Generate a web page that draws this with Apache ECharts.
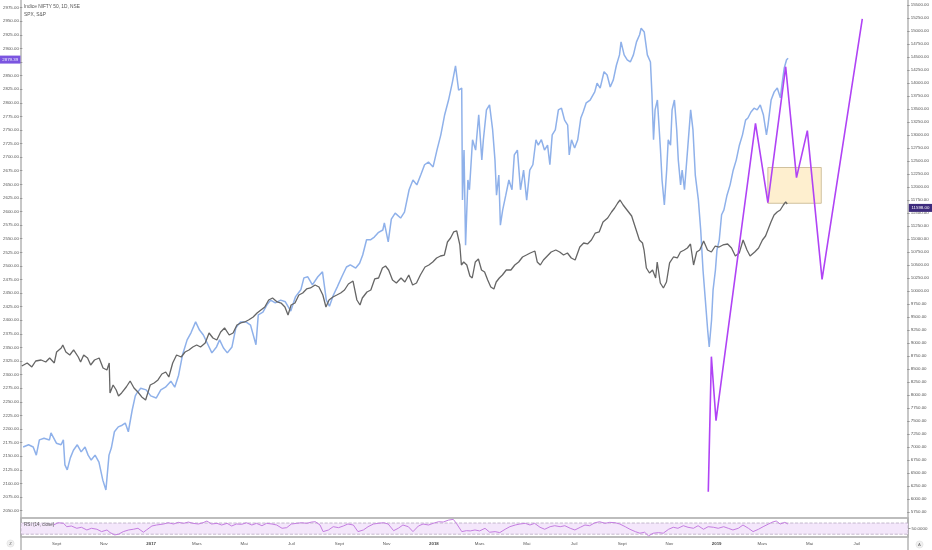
<!DOCTYPE html>
<html>
<head>
<meta charset="utf-8">
<style>
  html, body { margin: 0; padding: 0; background: #fff; }
  #chart { width: 932px; height: 550px; }
</style>
<script src="https://cdn.jsdelivr.net/npm/echarts@6/dist/echarts.min.js"></script>
</head>
<body>
<div id="chart"></div>
<script>
// S&P 500 (comparison, left scale)
const spx = [
  ['2016-07-18',2167],['2016-07-25',2171],['2016-07-31',2167],['2016-08-04',2152],['2016-08-08',2180],['2016-08-14',2183],
  ['2016-08-21',2180],['2016-08-23',2193],['2016-08-30',2174],['2016-09-05',2171],['2016-09-08',2180],['2016-09-10',2134],
  ['2016-09-13',2125],['2016-09-17',2147],['2016-09-21',2161],['2016-09-26',2171],['2016-10-01',2158],['2016-10-06',2167],
  ['2016-10-10',2152],['2016-10-14',2143],['2016-10-19',2152],['2016-10-24',2139],['2016-10-29',2106],['2016-11-02',2088],
  ['2016-11-06',2152],['2016-11-09',2165],['2016-11-13',2195],['2016-11-18',2204],['2016-11-23',2207],['2016-11-27',2211],
  ['2016-12-01',2195],['2016-12-06',2235],['2016-12-10',2261],['2016-12-12',2266],['2016-12-17',2275],['2016-12-24',2272],
  ['2016-12-30',2261],['2017-01-06',2257],['2017-01-12',2272],['2017-01-18',2277],['2017-01-25',2288],['2017-01-30',2277],
  ['2017-02-04',2299],['2017-02-09',2336],['2017-02-15',2364],['2017-02-20',2377],['2017-02-26',2397],['2017-03-03',2382],
  ['2017-03-08',2373],['2017-03-14',2355],['2017-03-19',2340],['2017-03-25',2351],['2017-03-29',2364],['2017-04-03',2349],
  ['2017-04-08',2340],['2017-04-14',2351],['2017-04-19',2386],['2017-04-25',2397],['2017-05-02',2397],['2017-05-08',2391],
  ['2017-05-15',2355],['2017-05-18',2410],['2017-05-24',2415],['2017-05-29',2428],['2017-06-03',2437],['2017-06-09',2432],
  ['2017-06-16',2437],['2017-06-22',2434],['2017-06-29',2417],['2017-07-05',2443],['2017-07-12',2456],['2017-07-16',2478],
  ['2017-07-21',2480],['2017-07-27',2465],['2017-08-03',2480],['2017-08-09',2489],['2017-08-14',2437],['2017-08-18',2426],
  ['2017-08-23',2446],['2017-08-28',2461],['2017-09-03',2480],['2017-09-09',2498],['2017-09-14',2502],['2017-09-21',2496],
  ['2017-09-26',2505],['2017-09-30',2520],['2017-10-05',2548],['2017-10-10',2548],['2017-10-15',2553],['2017-10-20',2561],
  ['2017-10-26',2566],['2017-10-28',2579],['2017-11-02',2544],['2017-11-06',2586],['2017-11-11',2597],['2017-11-18',2588],
  ['2017-11-23',2599],['2017-11-29',2640],['2017-12-04',2658],['2017-12-09',2649],['2017-12-14',2667],['2017-12-19',2686],
  ['2017-12-24',2691],['2017-12-30',2682],['2018-01-04',2713],['2018-01-09',2741],['2018-01-14',2778],['2018-01-19',2805],
  ['2018-01-24',2838],['2018-01-28',2868],['2018-02-01',2823],['2018-02-05',2827],['2018-02-06',2621],['2018-02-08',2713],
  ['2018-02-10',2538],['2018-02-13',2658],['2018-02-15',2640],['2018-02-19',2732],['2018-02-23',2713],['2018-02-27',2778],
  ['2018-03-03',2695],['2018-03-05',2732],['2018-03-09',2787],['2018-03-13',2796],['2018-03-17',2750],['2018-03-20',2695],
  ['2018-03-22',2630],['2018-03-25',2667],['2018-03-27',2575],['2018-03-30',2603],['2018-04-03',2630],['2018-04-07',2658],
  ['2018-04-11',2640],['2018-04-14',2704],['2018-04-18',2713],['2018-04-22',2640],['2018-04-26',2676],['2018-04-30',2621],
  ['2018-05-04',2676],['2018-05-08',2686],['2018-05-12',2732],['2018-05-15',2722],['2018-05-19',2732],['2018-05-23',2713],
  ['2018-05-27',2722],['2018-05-30',2686],['2018-06-02',2741],['2018-06-06',2750],['2018-06-10',2787],['2018-06-14',2790],
  ['2018-06-18',2768],['2018-06-22',2759],['2018-06-24',2704],['2018-06-27',2732],['2018-07-01',2717],['2018-07-05',2732],
  ['2018-07-09',2772],['2018-07-12',2783],['2018-07-16',2800],['2018-07-21',2805],['2018-07-27',2820],['2018-07-30',2836],
  ['2018-08-03',2827],['2018-08-08',2857],['2018-08-12',2851],['2018-08-16',2829],['2018-08-20',2842],['2018-08-24',2869],
  ['2018-08-28',2888],['2018-08-30',2912],['2018-09-03',2888],['2018-09-07',2879],['2018-09-11',2875],['2018-09-15',2888],
  ['2018-09-19',2912],['2018-09-23',2925],['2018-09-25',2937],['2018-09-29',2930],['2018-10-03',2888],['2018-10-07',2875],
  ['2018-10-09',2814],['2018-10-11',2732],['2018-10-13',2787],['2018-10-16',2805],['2018-10-20',2713],['2018-10-22',2658],
  ['2018-10-25',2612],['2018-10-28',2676],['2018-10-30',2732],['2018-11-02',2722],['2018-11-04',2787],['2018-11-07',2805],
  ['2018-11-10',2750],['2018-11-12',2695],['2018-11-15',2649],['2018-11-17',2676],['2018-11-20',2640],['2018-11-24',2713],
  ['2018-11-28',2787],['2018-12-01',2750],['2018-12-04',2667],['2018-12-08',2621],['2018-12-11',2566],['2018-12-14',2492],
  ['2018-12-17',2437],['2018-12-20',2382],['2018-12-22',2351],['2018-12-25',2400],['2018-12-27',2456],['2018-12-30',2492],
  ['2019-01-01',2529],['2019-01-04',2548],['2019-01-07',2594],['2019-01-10',2603],['2019-01-14',2630],['2019-01-18',2649],
  ['2019-01-22',2676],['2019-01-26',2695],['2019-01-30',2722],['2019-02-03',2741],['2019-02-07',2768],['2019-02-10',2772],
  ['2019-02-14',2783],['2019-02-18',2790],['2019-02-22',2787],['2019-02-26',2796],['2019-03-02',2778],['2019-03-06',2741],
  ['2019-03-08',2759],['2019-03-12',2805],['2019-03-16',2820],['2019-03-20',2827],['2019-03-24',2809],['2019-03-26',2833],
  ['2019-03-29',2864],['2019-04-01',2879],['2019-04-03',2882]
];

// Indice NIFTY 50 (main symbol, right scale)
const nifty = [
  ['2016-07-18',8558],['2016-07-25',8616],['2016-07-31',8539],['2016-08-05',8654],['2016-08-12',8673],['2016-08-18',8635],
  ['2016-08-23',8712],['2016-08-29',8616],['2016-09-01',8827],['2016-09-07',8904],['2016-09-09',8962],['2016-09-13',8827],
  ['2016-09-18',8769],['2016-09-23',8866],['2016-09-29',8731],['2016-10-02',8635],['2016-10-06',8769],['2016-10-11',8712],
  ['2016-10-15',8577],['2016-10-20',8673],['2016-10-26',8712],['2016-10-31',8519],['2016-11-05',8481],['2016-11-08',8616],
  ['2016-11-09',8039],['2016-11-13',8192],['2016-11-17',8096],['2016-11-20',7981],['2016-11-24',8039],['2016-11-30',8154],
  ['2016-12-05',8269],['2016-12-10',8135],['2016-12-15',8058],['2016-12-20',7962],['2016-12-25',7904],['2016-12-31',8192],
  ['2017-01-05',8231],['2017-01-10',8289],['2017-01-15',8404],['2017-01-20',8442],['2017-01-24',8346],['2017-01-29',8616],
  ['2017-02-03',8769],['2017-02-09',8731],['2017-02-14',8827],['2017-02-19',8866],['2017-02-24',8923],['2017-03-01',8962],
  ['2017-03-06',8923],['2017-03-12',9000],['2017-03-17',9192],['2017-03-22',9096],['2017-03-27',9058],['2017-04-01',9212],
  ['2017-04-06',9289],['2017-04-12',9154],['2017-04-17',9192],['2017-04-22',9346],['2017-04-27',9385],['2017-05-02',9404],
  ['2017-05-07',9442],['2017-05-13',9500],['2017-05-18',9577],['2017-05-23',9635],['2017-05-28',9692],['2017-06-02',9827],
  ['2017-06-07',9865],['2017-06-13',9789],['2017-06-18',9769],['2017-06-23',9692],['2017-06-27',9539],['2017-07-01',9731],
  ['2017-07-06',9769],['2017-07-11',9923],['2017-07-16',9962],['2017-07-21',10039],['2017-07-26',10058],['2017-08-01',10115],
  ['2017-08-06',10077],['2017-08-11',9923],['2017-08-15',9692],['2017-08-19',9827],['2017-08-24',9885],['2017-08-29',9923],
  ['2017-09-03',9962],['2017-09-08',10019],['2017-09-13',10135],['2017-09-19',10192],['2017-09-24',9827],['2017-09-28',9731],
  ['2017-10-01',9865],['2017-10-07',9981],['2017-10-12',10019],['2017-10-17',10231],['2017-10-22',10250],['2017-10-27',10442],
  ['2017-10-31',10481],['2017-11-04',10404],['2017-11-09',10212],['2017-11-14',10154],['2017-11-20',10250],['2017-11-25',10173],
  ['2017-11-30',10308],['2017-12-05',10115],['2017-12-10',10154],['2017-12-15',10308],['2017-12-21',10462],['2017-12-26',10500],
  ['2017-12-31',10558],['2018-01-05',10635],['2018-01-10',10673],['2018-01-15',10692],['2018-01-19',10942],['2018-01-23',11019],
  ['2018-01-27',11135],['2018-01-31',11154],['2018-02-04',10885],['2018-02-06',10500],['2018-02-09',10558],['2018-02-13',10500],
  ['2018-02-17',10289],['2018-02-20',10250],['2018-02-24',10558],['2018-02-28',10615],['2018-03-04',10404],['2018-03-08',10365],
  ['2018-03-12',10212],['2018-03-16',10077],['2018-03-20',10039],['2018-03-23',10173],['2018-03-27',10250],['2018-03-31',10308],
  ['2018-04-05',10404],['2018-04-11',10404],['2018-04-16',10500],['2018-04-21',10558],['2018-04-26',10654],['2018-05-01',10692],
  ['2018-05-06',10731],['2018-05-12',10769],['2018-05-15',10558],['2018-05-19',10500],['2018-05-23',10596],['2018-05-28',10673],
  ['2018-06-02',10750],['2018-06-08',10788],['2018-06-13',10750],['2018-06-18',10692],['2018-06-23',10731],['2018-06-28',10635],
  ['2018-07-03',10596],['2018-07-09',10846],['2018-07-14',10923],['2018-07-19',10904],['2018-07-24',10981],['2018-07-29',11115],
  ['2018-08-03',11135],['2018-08-08',11327],['2018-08-14',11404],['2018-08-19',11519],['2018-08-23',11596],['2018-08-27',11692],
  ['2018-08-30',11750],['2018-09-03',11654],['2018-09-08',11558],['2018-09-14',11442],['2018-09-19',11212],['2018-09-24',10981],
  ['2018-09-28',10923],['2018-09-30',10788],['2018-10-03',10442],['2018-10-07',10346],['2018-10-11',10404],['2018-10-15',10250],
  ['2018-10-17',10558],['2018-10-21',10154],['2018-10-25',10058],['2018-10-29',10173],['2018-11-02',10539],['2018-11-07',10654],
  ['2018-11-12',10635],['2018-11-16',10750],['2018-11-21',10788],['2018-11-25',10827],['2018-11-29',10904],['2018-12-03',10500],
  ['2018-12-07',10750],['2018-12-11',10788],['2018-12-16',10962],['2018-12-21',10788],['2018-12-26',10750],['2018-12-31',10865],
  ['2019-01-05',10846],['2019-01-10',10885],['2019-01-16',10904],['2019-01-21',10827],['2019-01-26',10673],['2019-01-31',10731],
  ['2019-02-05',10981],['2019-02-10',10788],['2019-02-14',10673],['2019-02-20',10750],['2019-02-25',10827],['2019-03-02',10981],
  ['2019-03-06',11058],['2019-03-10',11212],['2019-03-13',11327],['2019-03-17',11462],['2019-03-21',11519],['2019-03-25',11558],
  ['2019-03-29',11654],['2019-04-01',11712],['2019-04-03',11673]
];

// RSI (14, close) of the main symbol
const rsi = [
  ['2016-08-28',62.9],['2016-09-03',71.1],['2016-09-10',68.9],['2016-09-14',56.9],['2016-09-20',59.4],['2016-09-27',51.2],
  ['2016-10-03',54.8],['2016-10-10',45.2],['2016-10-16',51.2],['2016-10-23',47.7],['2016-10-29',39.2],['2016-11-05',45.2],
  ['2016-11-09',35.7],['2016-11-15',27.5],['2016-11-20',30],['2016-11-26',39.2],['2016-12-03',45.2],['2016-12-09',47.7],
  ['2016-12-15',51.2],['2016-12-22',37.1],['2016-12-26',45.2],['2017-01-02',59.4],['2017-01-08',62.9],['2017-01-17',66.5],
  ['2017-01-23',71.1],['2017-01-30',66.5],['2017-02-05',72.5],['2017-02-12',68.9],['2017-02-18',73.5],['2017-02-24',68.9],
  ['2017-03-03',66.5],['2017-03-09',71.1],['2017-03-14',77.1],['2017-03-20',66.5],['2017-03-27',68.9],['2017-04-02',62.9],
  ['2017-04-09',68.9],['2017-04-15',59.4],['2017-04-21',66.5],['2017-04-28',65.4],['2017-05-04',71.1],['2017-05-11',62.9],
  ['2017-05-17',68.9],['2017-05-24',60.4],['2017-05-30',68.9],['2017-06-06',66.5],['2017-06-12',62.9],['2017-06-19',51.2],
  ['2017-06-25',53.4],['2017-07-01',66.5],['2017-07-08',68.9],['2017-07-14',71.1],['2017-07-21',68.9],['2017-07-27',73.5],
  ['2017-08-01',74.6],['2017-08-07',62.9],['2017-08-11',39.2],['2017-08-18',45.2],['2017-08-24',56.9],['2017-08-31',53.4],
  ['2017-09-06',59.4],['2017-09-12',66.5],['2017-09-19',62.9],['2017-09-25',39.2],['2017-10-02',45.2],['2017-10-08',56.9],
  ['2017-10-15',66.5],['2017-10-21',68.9],['2017-10-28',71.1],['2017-11-03',66.5],['2017-11-10',42.7],['2017-11-16',51.2],
  ['2017-11-22',62.9],['2017-11-29',56.9],['2017-12-05',39.2],['2017-12-12',59.4],['2017-12-18',66.5],['2017-12-25',62.9],
  ['2017-12-31',68.9],['2018-01-07',74.6],['2018-01-13',73.5],['2018-01-20',80.6],['2018-01-26',83.1],['2018-01-30',68.9],
  ['2018-02-06',39.2],['2018-02-12',42.7],['2018-02-17',41.7],['2018-02-23',45.2],['2018-03-01',41.7],['2018-03-08',51.2],
  ['2018-03-14',37.1],['2018-03-21',39.2],['2018-03-27',35.7],['2018-04-03',47.7],['2018-04-09',56.9],['2018-04-16',62.9],
  ['2018-04-22',66.5],['2018-04-29',68.9],['2018-05-05',62.9],['2018-05-11',68.9],['2018-05-18',54.8],['2018-05-24',47.7],
  ['2018-05-31',56.9],['2018-06-06',60.4],['2018-06-13',56.9],['2018-06-19',60.4],['2018-06-26',51.2],['2018-07-02',45.2],
  ['2018-07-09',54.8],['2018-07-15',62.9],['2018-07-21',60.4],['2018-07-28',71.1],['2018-08-03',74.6],['2018-08-10',68.9],
  ['2018-08-16',72.5],['2018-08-23',71.1],['2018-08-29',66.5],['2018-09-05',56.9],['2018-09-11',47.7],['2018-09-18',39.2],
  ['2018-09-24',33.5],['2018-09-30',37.1],['2018-10-05',24],['2018-10-11',33.5],['2018-10-18',35.7],['2018-10-24',33.5],
  ['2018-10-31',47.7],['2018-11-06',54.8],['2018-11-12',51.2],['2018-11-19',60.4],['2018-11-25',54.8],['2018-12-02',51.2],
  ['2018-12-08',60.4],['2018-12-15',47.7],['2018-12-21',56.9],['2018-12-28',54.8],['2019-01-03',51.2],['2019-01-10',56.9],
  ['2019-01-16',51.2],['2019-01-22',45.2],['2019-01-29',51.2],['2019-02-04',62.9],['2019-02-11',51.2],['2019-02-17',39.2],
  ['2019-02-24',47.7],['2019-03-02',56.9],['2019-03-09',66.5],['2019-03-15',74.6],['2019-03-19',77.1],['2019-03-24',66.5],
  ['2019-03-30',72.5],['2019-04-03',66.5]
];

// hand-drawn zig-zag projection (right scale)
const drawing = [
  ['2018-12-22',6141],['2018-12-26',8737],['2019-01-01',7506],['2019-02-21',13225],['2019-03-09',11698],
  ['2019-04-01',14313],['2019-04-15',12179],['2019-04-29',13083],['2019-05-18',10225],['2019-07-09',15231]
];

// rectangle zone (right scale): [start, top], [end, bottom]
const zone = [['2019-03-09',12375],['2019-05-17',11687]];

const rsiBand = [30, 70];
const tickDates = ['2016-09-01','2016-11-01','2017-01-01','2017-03-01','2017-05-01','2017-07-01','2017-09-01','2017-11-01',
  '2018-01-01','2018-03-01','2018-05-01','2018-07-01','2018-09-01','2018-11-01','2019-01-01','2019-03-01','2019-05-01','2019-07-01'];
const tickLabels = ['Sept','Nov','2017','Mars','Mai','Juil','Sept','Nov','2018','Mars','Mai','Juil','Sept','Nov','2019','Mars','Mai','Juil'];
const spxLast = 2879.39;
const niftyLast = 11598.00;

const T0 = '2016-07-17', T1 = '2019-09-05';
const ts = s => { const p = s.split('-').map(Number); return new Date(p[0], p[1] - 1, p[2]).getTime(); };
const toXY = arr => arr.map(([d, v]) => [ts(d), v]);

const labelByTime = {};
tickDates.forEach((d, i) => { labelByTime[ts(d)] = tickLabels[i]; });

const FONT = '"Liberation Sans", Arial, sans-serif';
const TXT = '#555';
const FRAME = '#b4b4b4';
const FS = 4.4;

// dates are kept as timestamps on plain value axes so the month labels can sit on custom positions
function dateAxis(grid, labels) {
  let ax = {
    type: 'value', gridIndex: grid, min: ts(T0), max: ts(T1), scale: true,
    axisLine: {show: false}, axisTick: {show: false}, splitLine: {show: false},
    axisLabel: {show: false}
  };
  if (labels) {
    ax.axisLabel = {
      show: true,
      customValues: tickDates.map(ts),
      margin: 4.8,
      fontSize: FS, color: TXT, fontFamily: FONT,
      formatter: function (v) {
        let lab = labelByTime[v] || '';
        return /^\d{4}$/.test(lab) ? '{y|' + lab + '}' : lab;
      },
      rich: {y: {fontSize: FS, color: '#444', fontWeight: 'bold', fontFamily: FONT}}
    };
  }
  return ax;
}

function priceAxis(grid, pos, min, max, step) {
  return {
    type: 'value', gridIndex: grid, position: pos, min: min, max: max, interval: step,
    axisLine: {show: false},
    axisTick: {show: true, length: 2.5, lineStyle: {color: '#8a8a8a', width: 0.8}},
    splitLine: {show: false},
    axisLabel: {fontSize: FS, color: TXT, fontFamily: FONT, margin: 3.5, formatter: v => v.toFixed(2)}
  };
}

let chart = echarts.init(document.getElementById('chart'));

let option = {
  animation: false,
  backgroundColor: '#fff',
  grid: [
    {left: 21, right: 24, top: 7.6, height: 503},
    {left: 21, right: 24, top: 5, height: 507},
    {left: 21, right: 24, top: 518, height: 19, show: true, borderColor: '#a8a8a8', borderWidth: 1.6, backgroundColor: 'transparent'},
    {left: 21, right: 24, top: 0, bottom: 0}
  ],
  xAxis: [dateAxis(0, false), dateAxis(1, false), dateAxis(2, true), dateAxis(3, false)],
  yAxis: [
    priceAxis(0, 'left', 2050, 2975, 25),
    priceAxis(1, 'right', 5750, 15500, 250),
    {
      type: 'value', gridIndex: 2, position: 'right', min: 20, max: 88,
      axisLine: {show: false}, splitLine: {show: false},
      axisTick: {show: true, length: 2.5, customValues: [50], lineStyle: {color: '#8a8a8a', width: 0.8}},
      axisLabel: {customValues: [50], fontSize: FS, color: TXT, fontFamily: FONT, margin: 3.5, formatter: v => v.toFixed(4)}
    },
    {type: 'value', gridIndex: 3, position: 'left', min: 0, max: 1, axisLine: {show: true, lineStyle: {color: FRAME, width: 1.5}},
      axisTick: {show: false}, axisLabel: {show: false}, splitLine: {show: false}},
    {type: 'value', gridIndex: 3, position: 'right', min: 0, max: 1, axisLine: {show: true, lineStyle: {color: FRAME, width: 1.5}},
      axisTick: {show: false}, axisLabel: {show: false}, splitLine: {show: false}}
  ],
  series: [
    {
      name: 'SPX', type: 'line', xAxisIndex: 0, yAxisIndex: 0, data: toXY(spx),
      showSymbol: false, lineStyle: {color: '#8fb1ea', width: 1.5}, itemStyle: {color: '#8fb1ea'}, z: 2
    },
    {
      name: 'NIFTY', type: 'line', xAxisIndex: 1, yAxisIndex: 1, data: toXY(nifty),
      showSymbol: false, lineStyle: {color: '#666', width: 1.3}, itemStyle: {color: '#666'}, z: 3
    },
    {
      name: 'Projection', type: 'line', xAxisIndex: 1, yAxisIndex: 1, data: toXY(drawing),
      showSymbol: false, lineStyle: {color: '#b043f5', width: 1.6}, itemStyle: {color: '#b043f5'}, z: 5,
      markArea: {
        silent: true,
        itemStyle: {color: 'rgba(252, 214, 130, 0.38)', borderColor: '#c4b28c', borderWidth: 0.8},
        data: [[{xAxis: ts(zone[0][0]), yAxis: zone[0][1]}, {xAxis: ts(zone[1][0]), yAxis: zone[1][1]}]]
      }
    },
    {
      name: 'RSI', type: 'line', xAxisIndex: 2, yAxisIndex: 2, data: toXY(rsi),
      showSymbol: false, lineStyle: {color: '#c47ee0', width: 1}, itemStyle: {color: '#c47ee0'}, z: 3,
      markArea: {
        silent: true,
        itemStyle: {color: '#f4e7fb', borderColor: '#b8a9c0', borderWidth: 0.8, borderType: 'dashed'},
        data: [[{yAxis: rsiBand[0]}, {yAxis: rsiBand[1]}]]
      }
    }
  ]
};

chart.setOption(option);

// price tags and legend texts, placed through the axes
let yL = chart.convertToPixel({yAxisIndex: 0}, spxLast);
let yR = chart.convertToPixel({yAxisIndex: 1}, niftyLast);
let yRsi = chart.convertToPixel({yAxisIndex: 2}, rsiBand[1]);

chart.setOption({
  graphic: [
    {type: 'text', left: 24, top: 4.5, z: 20,
      style: {text: 'Indice NIFTY 50, 1D, NSE', fontSize: 4.8, fill: '#555', fontFamily: FONT}},
    {type: 'text', left: 24, top: 12.5, z: 20,
      style: {text: 'SPX, S&P', fontSize: 4.8, fill: '#555', fontFamily: FONT}},
    {type: 'text', left: 24, top: yRsi - 1, z: 20,
      style: {text: 'RSI (14, close)', fontSize: 4.6, fill: '#555', fontFamily: FONT}},
    {type: 'rect', z: 20, shape: {x: 0, y: yL - 4, width: 20.5, height: 8}, style: {fill: '#7b55e0'}},
    {type: 'text', z: 21, x: 10.2, y: yL, style: {text: spxLast.toFixed(2), fontSize: FS, fill: '#eef2ff',
      fontFamily: FONT, align: 'center', verticalAlign: 'middle'}},
    {type: 'rect', z: 20, shape: {x: 908.8, y: yR - 4, width: 23.2, height: 8}, style: {fill: '#3d2b7c'}},
    {type: 'text', z: 21, x: 920.4, y: yR, style: {text: niftyLast.toFixed(2), fontSize: FS, fill: '#fff',
      fontFamily: FONT, align: 'center', verticalAlign: 'middle'}},
    {type: 'circle', z: 20, shape: {cx: 10.5, cy: 543.5, r: 3.6}, style: {fill: '#f0f0f0', stroke: '#dcdcdc', lineWidth: 0.5}},
    {type: 'text', z: 21, x: 10.5, y: 543.7, style: {text: 'Z', fontSize: 4.2, fill: '#666', fontFamily: FONT,
      align: 'center', verticalAlign: 'middle'}},
    {type: 'circle', z: 20, shape: {cx: 919.5, cy: 544.5, r: 3.6}, style: {fill: '#f0f0f0', stroke: '#dcdcdc', lineWidth: 0.5}},
    {type: 'text', z: 21, x: 919.5, y: 544.7, style: {text: 'A', fontSize: 4.2, fill: '#666', fontFamily: FONT,
      align: 'center', verticalAlign: 'middle'}}
  ]
});
</script>
</body>
</html>
